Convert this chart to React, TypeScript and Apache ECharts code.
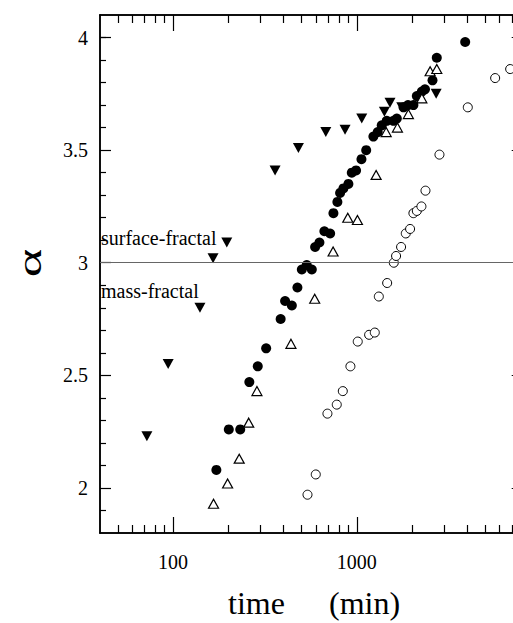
import React, { useEffect, useRef } from "react";
import * as echarts from "echarts";

// ---- data (time in min, alpha) ----
const downTriTime = [72, 94, 140, 165, 196, 359, 481, 678, 863, 1064, 1413, 1516, 1757, 2704];
const downTriAlpha = [2.23, 2.55, 2.8, 3.02, 3.09, 3.41, 3.51, 3.58, 3.59, 3.64, 3.67, 3.71, 3.69, 3.75];

const filledCircleTime = [172, 201, 232, 260, 289, 321, 385, 407, 443, 475, 502, 534, 569, 593, 626, 666, 716, 746, 784, 811, 845, 900, 939, 991, 1060, 1125, 1231, 1300, 1367, 1456, 1582, 1651, 1796, 1900, 2033, 2122, 2260, 2350, 2583, 2725, 3890];
const filledCircleAlpha = [2.08, 2.26, 2.26, 2.47, 2.54, 2.62, 2.75, 2.83, 2.81, 2.89, 2.97, 2.99, 2.97, 3.07, 3.09, 3.14, 3.13, 3.22, 3.27, 3.31, 3.33, 3.35, 3.4, 3.41, 3.46, 3.5, 3.56, 3.58, 3.61, 3.63, 3.63, 3.64, 3.69, 3.7, 3.7, 3.74, 3.76, 3.77, 3.81, 3.91, 3.98];

const openTriTime = [166, 198, 229, 258, 286, 438, 590, 743, 893, 1008, 1274, 1445, 1664, 1909, 2260, 2507, 2725];
const openTriAlpha = [1.93, 2.02, 2.13, 2.29, 2.43, 2.64, 2.84, 3.05, 3.2, 3.19, 3.39, 3.58, 3.6, 3.66, 3.73, 3.85, 3.86];

const openCircleTime = [539, 598, 692, 778, 839, 923, 1012, 1167, 1253, 1318, 1463, 1590, 1636, 1742, 1848, 1950, 2033, 2122, 2248, 2365, 2818, 4020, 5664, 6837];
const openCircleAlpha = [1.97, 2.06, 2.33, 2.37, 2.43, 2.54, 2.65, 2.68, 2.69, 2.85, 2.91, 3.0, 3.03, 3.07, 3.13, 3.15, 3.22, 3.23, 3.25, 3.32, 3.48, 3.69, 3.82, 3.86];

// ---- ticks ----
const xLabelValues = [100, 1000];
const xMajorTicks = [100, 1000];
const xMinorTicks = [50, 60, 70, 80, 90, 200, 300, 400, 500, 600, 700, 800, 900, 2000, 3000, 4000, 5000, 6000, 7000];
const yLabelValues = [2, 2.5, 3, 3.5, 4];
const yMajorTicks = [2, 2.5, 3, 3.5, 4];
const yMinorTicks = [1.9, 2.1, 2.2, 2.3, 2.4, 2.6, 2.7, 2.8, 2.9, 3.1, 3.2, 3.3, 3.4, 3.6, 3.7, 3.8, 3.9, 4.0];
const thresholdAlpha = 3;

const serif = "Liberation Serif";

const zip = (a: number[], b: number[]) => a.map((v, i) => [v, b[i]]);

export default function App() {
  const ref = useRef<HTMLDivElement>(null);
  useEffect(() => {
    if (!ref.current) return;
    const chart = echarts.init(ref.current, null, { renderer: "svg" });

    const xBase = (position: string, ticks: number[], len: number, labels: boolean) => ({
      type: "log",
      logBase: 10,
      gridIndex: 0,
      position,
      min: 40,
      max: 8000,
      axisLine: { show: true, onZero: false, lineStyle: { color: "#000", width: 1.5 } },
      axisTick: { show: true, inside: true, length: len, customValues: ticks, lineStyle: { color: "#000", width: 1.2 } },
      axisLabel: labels
        ? { show: true, customValues: xLabelValues, formatter: (v: number) => String(Math.round(v)), color: "#000", fontSize: 20, fontFamily: serif, margin: 19 }
        : { show: false },
      splitLine: { show: false },
      minorTick: { show: false },
    });
    const yBase = (position: string, ticks: number[], len: number, labels: boolean) => ({
      type: "value",
      gridIndex: 0,
      position,
      min: 1.8,
      max: 4.1,
      axisLine: { show: true, onZero: false, lineStyle: { color: "#000", width: 1.5 } },
      axisTick: { show: true, inside: true, length: len, customValues: ticks, lineStyle: { color: "#000", width: 1.2 } },
      axisLabel: labels
        ? { show: true, customValues: yLabelValues, formatter: (v: number) => String(v), color: "#000", fontSize: 20, fontFamily: serif, margin: 12 }
        : { show: false },
      splitLine: { show: false },
    });

    chart.setOption({
      animation: false,
      backgroundColor: "#fff",
      textStyle: { fontFamily: serif },
      grid: { left: 100, top: 15, width: 422.7, height: 518, containLabel: false },
      xAxis: [
        xBase("bottom", xMajorTicks, 16, true),
        xBase("bottom", xMinorTicks, 8, false),
        xBase("top", xMajorTicks, 16, false),
        xBase("top", xMinorTicks, 8, false),
      ],
      yAxis: [
        yBase("left", yMajorTicks, 11, true),
        yBase("left", yMinorTicks, 6, false),
        yBase("right", yMajorTicks, 11, false),
        yBase("right", yMinorTicks, 6, false),
      ],
      series: [
        {
          type: "scatter",
          name: "down",
          data: zip(downTriTime, downTriAlpha),
          symbol: "triangle",
          symbolRotate: 180,
          symbolSize: [11, 10],
          itemStyle: { color: "#000", opacity: 1 },
          markLine: {
            silent: true,
            symbol: ["none", "none"],
            label: { show: false },
            lineStyle: { color: "#666", width: 1, type: "solid" },
            data: [{ yAxis: thresholdAlpha }],
          },
        },
        {
          type: "scatter",
          name: "filled",
          data: zip(filledCircleTime, filledCircleAlpha),
          symbol: "circle",
          symbolSize: 10,
          itemStyle: { color: "#000", opacity: 1 },
        },
        {
          type: "scatter",
          name: "openTri",
          data: zip(openTriTime, openTriAlpha),
          symbol: "triangle",
          symbolSize: [10, 9],
          itemStyle: { color: "#fff", borderColor: "#000", borderWidth: 1.2, opacity: 1 },
        },
        {
          type: "scatter",
          name: "openCircle",
          data: zip(openCircleTime, openCircleAlpha),
          symbol: "circle",
          symbolSize: 9,
          itemStyle: { color: "#fff", borderColor: "#000", borderWidth: 1, opacity: 1 },
        },
      ],
      graphic: [
        { type: "text", x: 101, y: 238, style: { text: "surface-fractal", font: `20px ${serif}`, fill: "#000", align: "left", verticalAlign: "middle" } },
        { type: "text", x: 101, y: 291, style: { text: "mass-fractal", font: `20px ${serif}`, fill: "#000", align: "left", verticalAlign: "middle" } },
        { type: "text", x: 30, y: 263, rotation: Math.PI / 2, scaleX: 1.6, style: { text: "α", font: `34px ${serif}`, fill: "#000", align: "center", verticalAlign: "middle" } },
        { type: "text", x: 228, y: 603, style: { text: "time", font: `32px ${serif}`, fill: "#000", align: "left", verticalAlign: "middle" } },
        { type: "text", x: 329, y: 603, style: { text: "(min)", font: `32px ${serif}`, fill: "#000", align: "left", verticalAlign: "middle" } },
      ],
    });
    return () => chart.dispose();
  }, []);

  return (
    <div style={{ position: "absolute", left: 0, top: 0, width: 513, height: 623, overflow: "hidden", background: "#fff" }}>
      <div ref={ref} style={{ width: 560, height: 623 }} />
    </div>
  );
}
